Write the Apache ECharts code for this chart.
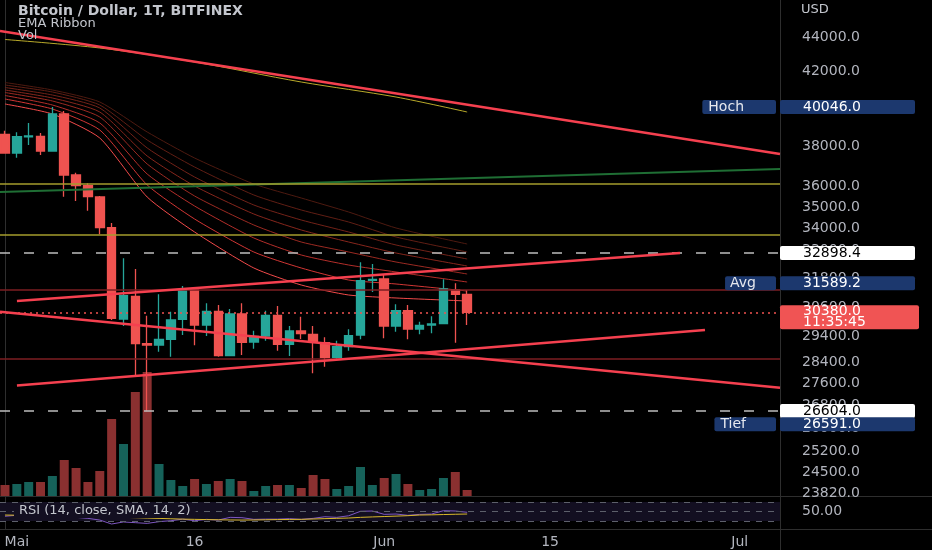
<!DOCTYPE html>
<html><head><meta charset="utf-8">
<script src="https://cdn.jsdelivr.net/npm/echarts@6/dist/echarts.min.js"></script>
<style>html,body{margin:0;padding:0;background:#000;}#c{width:932px;height:550px;}</style>
</head><body><div id="c"></div>
<script>
// ---------- DATA ----------
const xTickIdx = [1, 16, 32, 46, 62];
const xTickLabels = ['Mai', '16', 'Jun', '15', 'Jul'];
const yTicks = [44000, 42000, 40000, 38000, 36000, 35000, 34000, 33000, 31800, 30600, 29400, 28400, 27600, 26800, 26000, 25200, 24500, 23820];

const opens  = [38603,37644,38474,38499,37745,39672,36545,36023,35479,34043,30107,31041,29122,29071,29295,30094,31305,29865,30421,28656,30310,29189,29426,30257,29099,29624,29493,29162,28594,29005,29465,31716,31772,29824,30445,29704,29865,29917,31305,31124];
const closes = [37644,38479,38515,37745,39672,36545,36023,35494,34043,30135,31066,29122,29071,29295,30066,31305,29865,30421,28656,30310,29178,29414,30257,29099,29624,29517,29201,28594,29005,29438,31699,31759,29824,30445,29704,29852,29905,31347,31124,30380];
const lows   = [37620,37406,38051,37542,37710,35494,35289,34831,33742,30066,29824,27857,26591,28811,28617,29465,29059,29426,28617,28656,28683,28927,29240,28849,28644,29307,27984,28235,28517,28849,29295,31221,29335,29596,29295,29493,29533,29893,29162,29865];
const highs  = [38790,38707,39195,38671,40046,39833,36659,36139,35527,34259,32669,32202,30241,31124,30404,31474,31335,30750,30679,30515,30750,29636,30445,30638,29824,30200,29824,29374,29240,29692,32494,32420,31943,30708,30679,29998,30216,31759,31589,31305];
const volumes = [11,12,14,14,20,36,28,14,25,77,52,104,124,32,16,10,17,12,15,17,15,5,10,11,11,8,21,17,7,10,29,11,18,22,12,6,7,18,24,6];

const rsi    = [40,42,44,42.6,49,39,37.7,35.6,32,23.7,28,26.5,25,28.6,30.6,34,30.6,33.5,32,37.7,37,33.5,34,34,35,33.5,35.6,39,37.7,41,50.4,51,44,44.7,42,44,44.7,51.7,51,48.3];
const rsiSma = [42.6,42.2,41.8,41.3,40.9,40.5,40,39.4,38.8,38.2,37.7,37,36.2,35.5,34.7,34,33.5,33,32.6,32.2,32,32.2,32.6,33,33.3,33.5,34.2,35,35.6,36.3,37.7,38.6,39.4,40.3,41.2,42.6,43,43.6,44.2,44.7];

const ribbonIdx = [0, 4, 8, 12, 16, 21, 25, 29, 33, 39];
const ema1 = [41390,40975,40318,38723,37391,36105,35431,34770,34030,33304];
const ema2 = [41251,40865,40156,38308,36941,35575,34864,34305,33620,32948];
const ema3 = [41113,40700,39994,37898,36447,35099,34398,33847,33260,32639];
const ema4 = [40975,40536,39779,37492,36008,34676,33938,33394,32903,32333];
const ema5 = [40837,40373,39512,37091,35527,34167,33394,32948,32507,31987];
const ema6 = [40673,40156,39195,36594,35052,33575,32815,32376,32073,31644];
const ema7 = [40481,39940,38827,36057,34444,32948,32246,31729,31559,31263];
const ema8 = [40210,39672,38411,35479,33847,32246,31516,31095,30970,30845];

const slowMaIdx = [0, 8, 16, 25, 33, 39];
const slowMa = [43857, 43358, 42549, 41418, 40590, 39779];

const trendA = [[-0.42, 44361], [65.4, 37593]];
const trendB = [[1.01, 30845], [56.96, 32903]];
const trendC = [[1.01, 27529], [59.07, 29665]];
const trendD = [[-0.42, 30404], [65.4, 27447]];
const greenLine = [[-0.42, 35719], [65.4, 36842]];

const levelYellow = [36139, 33710];
const levelDarkRed = [31305, 28555];
const levelDashed = [32898.4, 26604.0];
const lastPrice = 30380.0;
const countdown = '11:35:45';
const highVal = 40046.0, avgVal = 31589.2, lowVal = 26591.0;
const rsiLevels = [70, 50, 30];

// ---------- CHART ----------
const chart = echarts.init(document.getElementById('c'), null, {renderer: 'canvas'});
const FONT = 'DejaVu Sans';
const txt = '#b2b5be';
const X = (gi, extra) => Object.assign({type: 'value', gridIndex: gi, min: -0.42, max: 65.4, show: false,
  splitLine: {show: false}, axisTick: {show: false}, axisLine: {show: false}}, extra || {});

function valBox(v, bg, fg, extra) {
  return Object.assign({show: true, position: 'end', distance: 0, formatter: v, backgroundColor: bg, color: fg,
    padding: [1, 20, 0, 23], width: 92, lineHeight: 13, fontSize: 14, fontFamily: FONT, borderRadius: 2}, extra || {});
}
function nameBox(t, pl, pr, extra) {
  return Object.assign({show: true, position: 'insideEnd', distance: 4, formatter: t, backgroundColor: '#1c386e', color: '#e6e8ee',
    padding: [1, pr, 0, pl], lineHeight: 13, fontSize: 14, fontFamily: FONT, borderRadius: 2}, extra || {});
}
const NOLINE = {color: 'rgba(0,0,0,0)', width: 0.01};

const ribbons = [ema1, ema2, ema3, ema4, ema5, ema6, ema7, ema8];
const ribbonColors = ['#4e1a10', '#601e14', '#722218', '#86261c', '#9c2a22', '#b42e2a', '#d23634', '#f24a4a'];

const series = [];
series.push({
  type: 'bar', name: 'Vol', xAxisIndex: 1, yAxisIndex: 1, barWidth: 9, silent: true, z: 1,
  data: volumes.map((v, i) => ({value: [i, v], itemStyle: {color: closes[i] >= opens[i] ? '#16625a' : '#8a3030'}}))
});
ribbons.forEach((arr, k) => series.push({
  type: 'line', name: 'EMA' + k, xAxisIndex: 0, yAxisIndex: 0, showSymbol: false, silent: true, z: 2, smooth: 0.2,
  lineStyle: {color: ribbonColors[k], width: 1}, data: arr.map((v, j) => [ribbonIdx[j], v])
}));
series.push({
  type: 'line', name: 'MA', xAxisIndex: 0, yAxisIndex: 0, showSymbol: false, silent: true, z: 2, smooth: 0.3,
  lineStyle: {color: '#b9aa2a', width: 1}, data: slowMa.map((v, j) => [slowMaIdx[j], v])
});
series.push({
  type: 'candlestick', name: 'BTCUSD', xAxisIndex: 0, yAxisIndex: 0, barWidth: 9, z: 3, silent: true,
  encode: {x: 0, y: [1, 2, 3, 4]},
  itemStyle: {color: '#26a69a', color0: '#ef5350', borderColor: '#26a69a', borderColor0: '#ef5350', borderColorDoji: '#26a69a', borderWidth: 1.3},
  data: opens.map((o, i) => [i, o, closes[i], lows[i], highs[i]]),
  markLine: {
    silent: true, symbol: ['none', 'none'], animation: false, label: {show: false},
    data: [
      {yAxis: levelYellow[0], lineStyle: {color: '#a59d2c', width: 1.5, type: 'solid'}},
      {yAxis: levelYellow[1], lineStyle: {color: '#a59d2c', width: 1.5, type: 'solid'}},
      {yAxis: levelDarkRed[0], lineStyle: {color: '#7c1e22', width: 1.5, type: 'solid'}},
      {yAxis: levelDarkRed[1], lineStyle: {color: '#7c1e22', width: 1.5, type: 'solid'}},
      {yAxis: lastPrice, lineStyle: {color: '#ef5350', width: 1.5, type: [2, 4]},
        label: valBox(lastPrice.toFixed(1) + '\n' + countdown, '#f05454', '#ffffff', {lineHeight: 11, padding: [1, 24, 1, 23], offset: [0, 5]})},
      {yAxis: levelDashed[0], lineStyle: {color: '#bdbdbd', width: 1.5, type: [10, 14]},
        label: valBox(levelDashed[0].toFixed(1), '#ffffff', '#000000')},
      {yAxis: levelDashed[1], lineStyle: {color: '#bdbdbd', width: 1.5, type: [10, 14]},
        label: valBox(levelDashed[1].toFixed(1), '#ffffff', '#000000')},
      {yAxis: highVal, lineStyle: NOLINE, label: valBox(highVal.toFixed(1), '#1c386e', '#ffffff')},
      {yAxis: highVal, lineStyle: NOLINE, label: nameBox('Hoch', 6, 32)},
      {yAxis: avgVal, lineStyle: NOLINE, label: valBox(avgVal.toFixed(1), '#1c386e', '#ffffff')},
      {yAxis: avgVal, lineStyle: NOLINE, label: nameBox('Avg', 5, 20)},
      {yAxis: lowVal, lineStyle: NOLINE, label: valBox(lowVal.toFixed(1), '#1c386e', '#ffffff', {offset: [0, 13]})},
      {yAxis: lowVal, lineStyle: NOLINE, label: nameBox('Tief', 6, 30, {offset: [0, 13]})}
    ]
  }
});
series.push({type: 'line', name: 'green', xAxisIndex: 0, yAxisIndex: 0, showSymbol: false, silent: true, z: 4,
  lineStyle: {color: '#1f6e34', width: 2}, data: greenLine});
[trendA, trendB, trendC, trendD].forEach((t, k) => series.push({
  type: 'line', name: 'trend' + k, xAxisIndex: 0, yAxisIndex: 0, showSymbol: false, silent: true, z: 5,
  lineStyle: {color: '#f5404f', width: 2.5}, data: t
}));
series.push({
  type: 'line', name: 'RSI', xAxisIndex: 2, yAxisIndex: 2, showSymbol: false, silent: true, z: 3,
  lineStyle: {color: '#7e57c2', width: 1}, data: rsi.map((v, i) => [i, v]),
  markArea: {silent: true, itemStyle: {color: '#130f21'}, data: [[{yAxis: rsiLevels[2]}, {yAxis: rsiLevels[0]}]]},
  markLine: {silent: true, symbol: ['none', 'none'], label: {show: false},
    lineStyle: {color: '#5d606b', type: [6, 6], width: 1}, data: rsiLevels.map(v => ({yAxis: v}))}
});
series.push({
  type: 'line', name: 'RSI-MA', xAxisIndex: 2, yAxisIndex: 2, showSymbol: false, silent: true, z: 3,
  lineStyle: {color: '#d8b82a', width: 1}, data: rsiSma.map((v, i) => [i, v])
});

const ts = (size, weight) => ({color: '#c3c6cd', fontSize: size, fontWeight: weight || 'normal', fontFamily: FONT});
chart.setOption({
  backgroundColor: '#000000',
  animation: false,
  title: [
    {text: 'Bitcoin / Dollar, 1T, BITFINEX', left: 18, top: 4, padding: 0, textStyle: ts(14, 'bold')},
    {text: 'EMA Ribbon', left: 18, top: 17, padding: 0, textStyle: ts(13)},
    {text: 'Vol', left: 18, top: 29, padding: 0, textStyle: ts(13)},
    {text: 'USD', left: 801, top: 3, padding: 0, textStyle: ts(13)},
    {text: 'RSI (14, close, SMA, 14, 2)', left: 14, top: 503, padding: [1, 5, 1, 5], backgroundColor: '#130f21', textStyle: ts(13)}
  ],
  grid: [
    {left: 0, right: 152, top: 0, height: 496, outerBoundsMode: 'none'},
    {left: 0, right: 152, top: 372, height: 124, outerBoundsMode: 'none'},
    {left: 0, right: 152, top: 496, height: 33, outerBoundsMode: 'none'}
  ],
  xAxis: [
    X(0), X(1),
    X(2, {show: true, axisLabel: {show: true, customValues: xTickIdx, hideOverlap: false, margin: 6, color: txt, fontSize: 14, fontFamily: FONT,
      formatter: v => xTickLabels[xTickIdx.indexOf(Math.round(v))] || ''}})
  ],
  yAxis: [
    {type: 'log', gridIndex: 0, position: 'right', min: 23725, max: 46251, splitLine: {show: false},
      axisLine: {show: true, lineStyle: {color: '#2e2e2e'}}, axisTick: {show: false},
      axisLabel: {customValues: yTicks, hideOverlap: false, margin: 22, color: txt, fontSize: 14, fontFamily: FONT, formatter: v => Number(v).toFixed(1)}},
    {type: 'value', gridIndex: 1, min: 0, max: 124, show: false, splitLine: {show: false}},
    {type: 'value', gridIndex: 2, position: 'right', min: 13.2, max: 82.6, splitLine: {show: false},
      axisLine: {show: true, lineStyle: {color: '#2e2e2e'}}, axisTick: {show: false},
      axisLabel: {customValues: [50], hideOverlap: false, margin: 22, color: txt, fontSize: 14, fontFamily: FONT, formatter: v => Number(v).toFixed(2)}}
  ],
  graphic: [
    {type: 'line', silent: true, shape: {x1: 0, y1: 496.5, x2: 932, y2: 496.5}, style: {stroke: '#2e2e2e', lineWidth: 1}},
    {type: 'line', silent: true, shape: {x1: 0, y1: 529.5, x2: 932, y2: 529.5}, style: {stroke: '#2e2e2e', lineWidth: 1}},
    {type: 'line', silent: true, shape: {x1: 780.5, y1: 0, x2: 780.5, y2: 550}, style: {stroke: '#2e2e2e', lineWidth: 1}}
  ],
  series: series
});
</script>
</body></html>
